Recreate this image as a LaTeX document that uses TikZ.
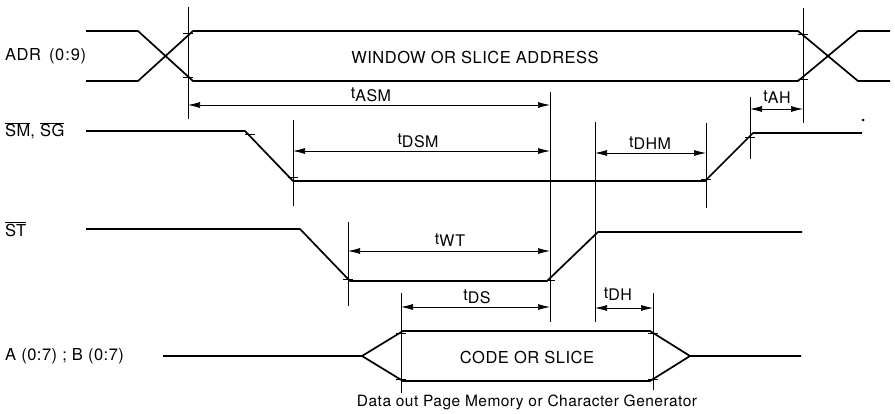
\documentclass[tikz,border=0pt]{standalone}
\usepackage{fontspec}
\setmainfont{TeX Gyre Heros}[LetterSpace=3]
\usetikzlibrary{arrows.meta}
\newcommand{\tsub}[1]{t\raisebox{-2.5pt}{#1}}
\newcommand{\ovl}[1]{$\overline{\hbox{#1}}$}
\tikzset{
  sig/.style={line width=1.7pt, line join=round},
  guide/.style={line width=0.6pt},
  dim/.style={line width=0.7pt, {Latex[length=12pt,width=6pt]}-{Latex[length=12pt,width=6pt]}},
  lbl/.style={font=\fontsize{16.5}{19}\selectfont, inner sep=0pt},
  tlbl/.style={font=\fontsize{16}{19}\selectfont, inner sep=0pt},
  tick/.style={line width=0.6pt},
}
\begin{document}
\begin{tikzpicture}[x=1pt,y=-1pt]
\useasboundingbox (0,0) rectangle (895,413);

% ---------- ADR (0:9)
\coordinate (aL1) at (86,31);  \coordinate (aL2) at (138,31);
\coordinate (aL3) at (86,81);  \coordinate (aL4) at (138,81);
\coordinate (aM1) at (193,31); \coordinate (aM2) at (193,81);
\coordinate (aR1) at (798,31); \coordinate (aR2) at (798,81);
\coordinate (aE1) at (858,31); \coordinate (aE2) at (858,81);
\coordinate (aF1) at (890,31); \coordinate (aF2) at (890,81);
\draw[sig] (aL1) -- (aL2) -- (aM2) -- (aR2) -- (aE1) -- (aF1);
\draw[sig] (aL3) -- (aL4) -- (aM1) -- (aR1) -- (aE2) -- (aF2);
\node[lbl, anchor=west] (adr) at (5,56) {ADR\hspace{3pt} (0\hspace{1pt}:\hspace{1pt}9)};
\node[lbl] (win) at (475,57) {WINDOW OR SLICE ADDRESS};

% ---------- SM, SG
\coordinate (s1) at (86,131);  \coordinate (s2) at (245,131);
\coordinate (s3) at (293,181); \coordinate (s4) at (705,181);
\coordinate (s5) at (753,133); \coordinate (s6) at (862,133);
\draw[sig] (s1) -- (s2) -- (s3) -- (s4) -- (s5) -- (s6);
\node[lbl, anchor=west] (smsg) at (5,131) {\ovl{SM}, \ovl{SG}};
\fill (863,120) circle (1.5pt);

% ---------- ST
\coordinate (t1) at (86,229);  \coordinate (t2) at (300,229);
\coordinate (t3) at (350,281); \coordinate (t4) at (547,281);
\coordinate (t5) at (598,232); \coordinate (t6) at (802,232);
\draw[sig] (t1) -- (t2) -- (t3) -- (t4) -- (t5) -- (t6);
\node[lbl, anchor=west] (st) at (5,229) {\ovl{ST}};

% ---------- A (0:7) ; B (0:7)
\coordinate (d1) at (163,356); \coordinate (d2) at (362,356);
\coordinate (d3) at (403,331); \coordinate (d4) at (403,381);
\coordinate (d5) at (650,331); \coordinate (d6) at (650,381);
\coordinate (d7) at (690,356); \coordinate (d8) at (801,356);
\draw[sig] (d1) -- (d2) -- (d3) -- (d5) -- (d7) -- (d8);
\draw[sig] (d2) -- (d4) -- (d6) -- (d7);
\node[lbl, anchor=west] (ab) at (5,356) {A (0:7) ; B (0:7)};
\node[lbl] (code) at (527,357) {CODE OR SLICE};
\node[lbl, font=\fontsize{15.5}{18}\selectfont] (dout) at (527,402) {Data out Page Memory or Character Generator};

% ---------- reference verticals
\draw[guide] (188,7) coordinate (v1t) -- (188,119) coordinate (v1b);
\draw[guide] (803,8) coordinate (v2t) -- (803,123) coordinate (v2b);
\draw[guide] (550,92) coordinate (v3t) -- (550,322) coordinate (v3b);
\draw[guide] (750,97) coordinate (v4t) -- (750,159) coordinate (v4b);
\draw[guide] (293,120) coordinate (v5t) -- (293,206) coordinate (v5b);
\draw[guide] (595,122) coordinate (v6t) -- (595,322) coordinate (v6b);
\draw[guide] (706,123) coordinate (v7t) -- (706,208) coordinate (v7b);
\draw[guide] (348,222) coordinate (v8t) -- (348,306) coordinate (v8b);
\draw[guide] (401,293) coordinate (v9t) -- (401,393) coordinate (v9b);
\draw[guide] (653,293) coordinate (v10t) -- (653,390) coordinate (v10b);

% ---------- crossing ticks
\foreach \x/\y in {188/33, 188/77, 803/34, 803/79, 250/134, 293/177,
                   706/179, 750/137, 348/279, 550/280, 401/333, 401/379,
                   653/333, 653/379}
  \draw[tick] (\x-5,\y) -- (\x+5,\y);

% ---------- timing dimensions
\coordinate (asmL) at (188,105); \coordinate (asmR) at (550,105);
\draw[dim] (asmL) -- (asmR);
\node[tlbl] (asm) at (371,95) {\tsub{ASM}};

\coordinate (ahL) at (750,109); \coordinate (ahR) at (803,109);
\draw[dim] (ahL) -- (ahR);
\node[tlbl] (ah) at (777,97) {\tsub{AH}};

\coordinate (dsmL) at (293,151); \coordinate (dsmR) at (550,151);
\draw[dim] (dsmL) -- (dsmR);
\node[tlbl] (dsm) at (418,141) {\tsub{DSM}};

\coordinate (dhmL) at (595,153); \coordinate (dhmR) at (706,153);
\draw[dim] (dhmL) -- (dhmR);
\node[tlbl] (dhm) at (650,143) {\tsub{DHM}};

\coordinate (wtL) at (348,251); \coordinate (wtR) at (550,251);
\draw[dim] (wtL) -- (wtR);
\node[tlbl] (wt) at (450,240) {\tsub{WT}};

\coordinate (dsL) at (401,307); \coordinate (dsR) at (550,307);
\draw[dim] (dsL) -- (dsR);
\node[tlbl] (ds) at (477,297) {\tsub{DS}};

\coordinate (dhL) at (595,308); \coordinate (dhR) at (653,308);
\draw[dim] (dhL) -- (dhR);
\node[tlbl] (dh) at (618,294) {\tsub{DH}};
\end{tikzpicture}
\end{document}
